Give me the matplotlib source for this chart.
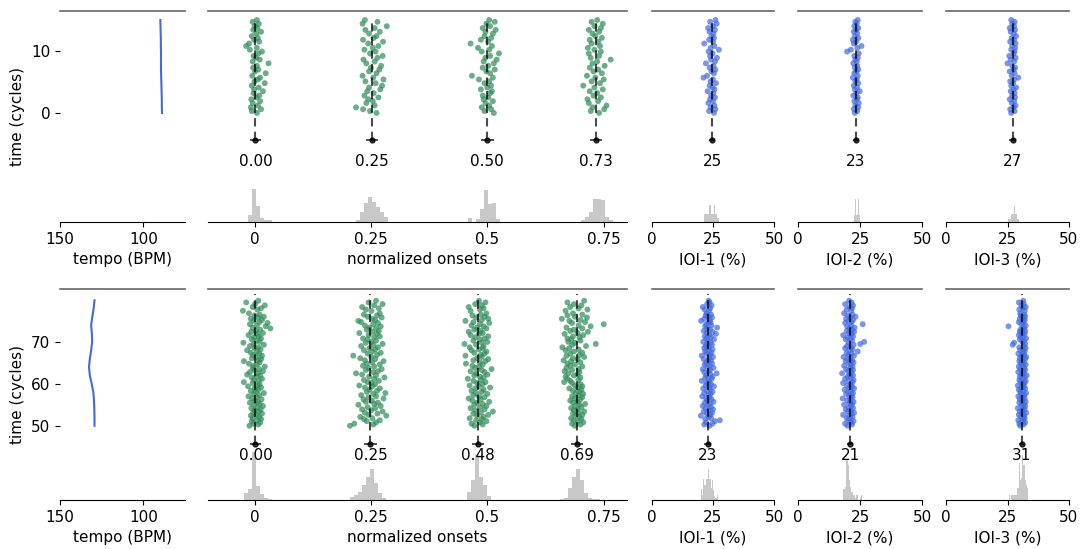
import matplotlib
matplotlib.use("Agg")
import matplotlib.pyplot as plt
import numpy as np

plt.rcParams['font.family'] = ['DejaVu Sans']
plt.rcParams['font.size'] = 11

# ---------------- data ----------------
# tempo curves
tempo_top_cycles = [0, 1, 2, 3, 4, 5, 6, 7, 8, 9, 10, 11, 12, 13, 14, 15]
tempo_top_bpm = [88.8, 88.9, 88.9, 89.0, 89.1, 89.2, 89.3, 89.4, 89.4, 89.4, 89.4, 89.5, 89.5, 89.6, 89.7, 89.8]
tempo_bot_cycles = [50, 52, 54, 56, 58, 60, 62, 64, 66, 68, 70, 72, 74, 76, 78, 79.9]
tempo_bot_bpm = [129.3, 129.3, 129.4, 129.6, 130.0, 131.0, 132.1, 132.6, 132.1, 131.3, 130.7, 130.9, 131.3, 130.6, 129.8, 129.3]

# time (cycles) of each scatter point
y_top = [0.0, 0.3, 0.6, 0.9, 1.2, 1.6, 1.9, 2.2,
         2.5, 2.8, 3.2, 3.5, 3.8, 4.1, 4.4, 4.8,
         5.1, 5.4, 5.7, 6.0, 6.4, 6.7, 7.0, 7.3,
         7.6, 8.0, 8.3, 8.6, 8.9, 9.2, 9.6, 9.9,
         10.2, 10.5, 10.8, 11.2, 11.5, 11.8, 12.1, 12.4,
         12.8, 13.1, 13.4, 13.7, 14.0, 14.4, 14.7, 15.0]
y_bot = [50.0, 50.3, 50.5, 50.8, 51.1, 51.3, 51.6, 51.8,
         52.1, 52.4, 52.6, 52.9, 53.1, 53.4, 53.7, 53.9,
         54.2, 54.4, 54.7, 55.0, 55.2, 55.5, 55.7, 56.0,
         56.3, 56.5, 56.8, 57.0, 57.3, 57.6, 57.8, 58.1,
         58.3, 58.6, 58.9, 59.1, 59.4, 59.6, 59.9, 60.2,
         60.4, 60.7, 60.9, 61.2, 61.5, 61.7, 62.0, 62.2,
         62.5, 62.8, 63.0, 63.3, 63.5, 63.8, 64.1, 64.3,
         64.6, 64.8, 65.1, 65.4, 65.6, 65.9, 66.1, 66.4,
         66.7, 66.9, 67.2, 67.4, 67.7, 68.0, 68.2, 68.5,
         68.7, 69.0, 69.3, 69.5, 69.8, 70.0, 70.3, 70.6,
         70.8, 71.1, 71.3, 71.6, 71.9, 72.1, 72.4, 72.6,
         72.9, 73.2, 73.4, 73.7, 73.9, 74.2, 74.5, 74.7,
         75.0, 75.2, 75.5, 75.8, 76.0, 76.3, 76.5, 76.8,
         77.4, 77.7, 78.0, 78.3, 78.7, 79.0, 79.4, 79.8]

# normalized onsets: means, std, and per-point deviation (x 1e-3 cycle)
onset_mean_top = [0.002, 0.252, 0.500, 0.734]
onset_std_top = [0.011, 0.013, 0.014, 0.013]
onset_dev_top = [
    [3, -8, 12, -10, 5, -6, 10, -9, 2, 8, -4, 16, -3, 7, -8, 20,
     -2, 5, 10, -7, 22, -1, 6, -5, 3, 28, -6, 9, 1, -4, 6, 14,
     -12, 3, -20, -14, 8, -3, 5, -8, 2, 12, -5, 4, -2, 7, -6, 3],
    [10, -4, -19, -34, 6, -12, 2, -8, 14, -16, 4, -10, 18, -6, 22, 8,
     -14, 25, 3, -20, 10, -6, 16, -2, 20, -12, 6, -18, 12, 23, -4, 8,
     -16, 2, 14, -8, 24, -19, 4, 10, -6, 17, -14, 6, 32, -20, 12, -15],
    [14, -6, 8, -12, 4, -4, 12, -8, 2, -10, 6, 10, -14, 0, 8, -6,
     4, -18, 12, -33, 6, -2, 16, -10, 2, 14, -8, 20, -4, 6, 25, -12,
     4, -20, 10, -36, 2, -14, 8, -6, 12, -4, 18, -10, 6, -2, 16, 4],
    [6, -12, 17, -8, 22, -16, 4, -19, 10, -6, 2, -14, 14, -4, -28, 8,
     -10, 16, -2, -20, 12, -6, 4, -14, 18, -8, 2, 31, -12, 6, -16, 10,
     -4, -18, 8, -10, 4, -14, 12, -2, -8, 6, -16, 10, -4, 14, -10, 2],
]
onset_mean_bot = [0.002, 0.249, 0.480, 0.692]
onset_std_bot = [0.0125, 0.0135, 0.012, 0.0125]
onset_dev_bot = [
    [-13, 6, -4, 10, -8, 3, 12, -6, 8, -10, 2, 14, -5, 7, -2, 11,
     -9, 4, 16, -3, 9, -12, 5, -1, 13, -7, 3, -15, 8, -4, 18, 1,
     -10, 6, -2, 12, -16, 4, 9, -6, -25, 7, -3, 14, -8, 2, 10, -18,
     5, -12, 16, -2, 8, -6, 20, -4, 3, -14, 9, -25, 6, 12, -8, 1,
     14, -5, 8, -10, 3, -18, 11, -2, 6, -12, 18, -4, -26, 9, 2, -8,
     12, -3, 7, -15, 4, 16, -9, 1, 10, 32, -6, 22, 3, -12, 26, 8,
     -4, 14, -10, 6, 18, -2, 9, -14, -27, 4, 12, -6, 20, -1, -20, 6],
    [-44, 6, -35, 12, -8, 20, -14, 4, -22, 34, -4, 15, -12, 26, 2, -18,
     10, -6, 22, -26, 8, 16, -10, 3, -15, 28, -4, 12, -20, 6, 32, -8,
     14, -2, 20, -12, 4, -24, 10, 2, -6, 18, -14, 8, 30, -3, 12, -18,
     -31, 6, 16, -10, 24, -4, 8, -16, 20, -8, 4, 28, -12, 10, -22, 2,
     -37, 14, -6, 22, 4, -14, 10, -2, 16, -20, 6, 26, -10, 2, 12, -6,
     -16, 8, 20, -4, 14, -24, 4, 18, -8, 12, -2, 22, -12, 6, 16, -20,
     -26, 10, 4, 24, -6, 14, -14, 20, 2, -10, 18, -18, 8, 26, -4, 12],
    [-8, 10, -14, 4, 18, -4, 8, -18, 12, -2, 22, -10, 6, 32, -6, 14,
     -16, 4, 18, -8, 10, -2, 24, -12, 6, -20, 14, 2, -10, 20, -4, 8,
     -14, 12, -6, 26, 2, -18, 10, -2, 16, -10, 6, -22, 12, 4, -8, 20,
     -4, 14, -16, 8, 29, -6, 2, -12, 10, -26, 4, 16, -10, 22, -2, 8,
     -27, 6, 14, -8, 18, -14, 2, 10, -18, 12, -4, -29, 8, 20, -10, 4,
     14, -6, 22, -16, 2, 10, -20, 6, -8, 18, -2, 12, -14, 4, 24, -10,
     -27, 8, 22, -4, 14, -12, 6, 18, -16, 4, 12, -20, 8, -6, 16, 2],
    [-4, 8, -10, 14, 2, -6, 10, -12, 6, -2, 12, -8, 4, 16, -6, 2,
     -12, 10, -4, 6, 18, -8, 2, -14, 8, -4, 12, -10, 4, 14, -2, 6,
     -8, 10, -16, 2, 12, -4, 8, -10, -27, -14, 4, -20, 8, -24, -6, 2,
     -18, 6, -26, -10, 4, -22, 12, -14, -4, -20, 8, -12, -28, 2, -8, 16,
     -22, 6, -14, 12, -6, -24, 4, -16, -31, 20, -10, 41, -4, -18, 8, -12,
     -20, 6, -8, 14, -26, 2, 24, -14, -6, 12, -22, 30, 4, 58, -10, 18,
     -16, 8, -32, 22, -4, -20, 12, -8, -24, 23, 4, -14, 10, -6, -20, 16],
]

# IOIs (%): means, std, per-point deviation (x 0.1 %)
ioi_mean_top = [24.6, 23.3, 27.1]
ioi_std_top = [1.4, 1.2, 1.3]
ioi_dev_top = [
    [8, -12, 14, -6, 10, -15, 4, -8, 12, -4, 6, -18, 10, 2, -10, 16,
     -6, 4, -35, -20, 8, -2, 14, -10, 6, -25, 12, -4, 20, -8, 2, -14,
     28, -6, 10, -32, 4, -12, 8, -2, 6, -10, 12, -16, 4, 19, -8, 14],
    [-4, 6, -8, 10, -2, 12, -6, 4, 8, -10, 2, 16, -4, 6, -8, 10,
     -2, 4, -12, 8, -6, 2, 10, -4, 6, -10, 4, -2, 8, -6, 12, -35,
     -20, 6, 23, -8, 2, -12, 10, -4, 6, -8, 2, 10, -6, 4, -2, 8],
    [-6, 8, -10, 4, 12, -4, 6, -12, 10, -2, 8, -8, 4, 14, -6, 2,
     -10, 6, 23, -4, 8, -12, 4, 10, -2, -21, 6, -8, 12, -14, 4, 8,
     -6, 10, -2, 12, -10, 6, -4, 14, 4, -8, 10, -12, 6, -2, 8, -6],
]
ioi_mean_bot = [22.8, 21.0, 30.8]
ioi_std_bot = [1.3, 1.2, 1.1]
ioi_dev_bot = [
    [8, -14, 20, -6, 30, 50, -10, 14, 4, -28, 12, -4, 18, -16, 6, 22,
     -8, 14, -20, 2, 10, -12, 24, -2, 16, -6, 8, -22, 4, 12, -14, 20,
     -2, 10, -18, 6, 26, -8, 14, -4, 8, -24, 2, 16, -10, 20, -6, 12,
     37, -14, 4, 10, -20, 24, -2, 8, -12, 18, -6, 2, 14, -16, 6, 22,
     -24, 10, -4, 16, -10, 4, 20, -14, 6, -8, 18, -2, 12, -18, 2, 26,
     -6, 14, -12, 8, 34, -4, 20, -16, 10, -2, 39, -10, 16, -6, 4, 12,
     -27, 8, -14, 18, 2, -8, 14, -4, 6, -12, 10, -20, 16, -2, 8, 4],
    [-10, 8, -20, 4, 14, -6, 2, -14, 10, -4, -28, 6, 16, -10, 2, -18,
     12, -6, 4, -24, 8, -2, 14, -12, 2, -30, 10, -4, 6, -16, 12, -8,
     4, -22, 16, -2, 8, -12, 2, -28, 10, -6, 14, -20, 4, -10, 12, -2,
     -32, 6, -8, 12, -16, 2, 10, -24, 4, -4, 14, -18, 8, -10, 2, -26,
     16, -6, 6, -14, 31, -2, 10, -20, 4, -12, 14, 41, -6, 57, 8, -18,
     2, -10, 12, -28, 6, -4, 16, -14, 8, -2, 18, -12, 4, 51, -20, 6,
     -6, 12, -16, 2, 22, -8, 10, -24, 4, -14, 8, -2, 12, -20, 6, -4],
    [-6, 8, -10, 14, 2, -14, 6, 12, -4, 10, -12, 4, 18, -8, 2, 12,
     -16, 6, 14, -2, 8, -10, 16, 2, -8, 12, 4, -14, 10, -4, 18, -6,
     6, -12, 14, -2, 8, -16, 4, 12, -4, 16, -10, 2, 12, -8, 20, -2,
     8, -14, 6, 14, -6, 10, -12, 4, 16, -4, 8, -10, 2, 14, -8, 18,
     -2, 10, -14, 6, 12, -6, 4, 16, -10, 8, -37, 14, -31, 2, 10, -8,
     18, -4, 6, -12, 12, 2, -8, 14, -6, 10, 4, -54, 16, -2, 8, -12,
     6, 12, -8, 2, 14, -4, 10, -6, 12, -10, 4, 16, -2, 8, -12, 6],
]

# histograms: bin start, counts (bin width fixed per panel type)
onset_bin = 0.0085
onset_hist_top_start = [-0.014, 0.218, 0.459, 0.702]
onset_hist_top_counts = [[7, 33, 16, 4, 2, 2],
                         [2, 10, 19, 25, 20, 15, 10, 5],
                         [4, 0, 3, 13, 32, 18, 19, 3],
                         [2, 5, 10, 23, 23, 22, 5, 2]]
onset_hist_bot_start = [-0.022, 0.206, 0.457, 0.656]
onset_hist_bot_counts = [[7, 11, 48, 14, 6, 2, 1],
                         [3, 5, 8, 15, 23, 31, 17, 7, 2],
                         [8, 20, 45, 23, 15, 4],
                         [1, 2, 12, 23, 31, 20, 7, 2, 1, 1]]
ioi_bin = 0.5
ioi_hist_top_start = [21.5, 22.5, 25.0]
ioi_hist_top_counts = [[8, 8, 8, 8, 17, 8, 8, 8, 17, 8, 4, 4],
                       [7, 23, 7, 23, 7],
                       [3, 3, 3, 8, 8, 16, 8, 8, 3]]
ioi_hist_bot_start = [20.0, 18.0, 25.0]
ioi_hist_bot_counts = [[11, 5, 21, 15, 21, 21, 31, 21, 12, 20, 10, 4, 2, 5],
                       [11, 11, 13, 40, 35, 20, 13, 8, 5, 5, 2, 5, 0, 0, 2, 5],
                       [0, 5, 0, 5, 5, 5, 5, 5, 12, 37, 20, 22, 45, 35, 20, 15, 12]]

onset_ticks = [0, 0.25, 0.5, 0.75]
onset_ticklabels = ["0", "0.25", "0.5", "0.75"]
ioi_ticks = [0, 25, 50]
tempo_ticks = [150, 100]
ioi_labels = ["IOI-1 (%)", "IOI-2 (%)", "IOI-3 (%)"]

# ---------------- layout ----------------
W, H = 1083, 549
fig = plt.figure(figsize=(W / 100, H / 100), dpi=100)

col_px = [(60, 125), (208, 419), (652, 122), (798, 124), (946, 123)]
row_px = [(11, 211), (289, 211)]

rows = [
    dict(ylim=(-17.6, 16.45), yticks=[0, 10], marker_y=-4.4, label_y=-7.9, line_top=15.0,
         y=y_top, tc=tempo_top_cycles, tb=tempo_top_bpm,
         om=onset_mean_top, osd=onset_std_top, od=onset_dev_top,
         oh_s=onset_hist_top_start, oh_c=onset_hist_top_counts,
         im=ioi_mean_top, isd=ioi_std_top, idv=ioi_dev_top,
         ih_s=ioi_hist_top_start, ih_c=ioi_hist_top_counts),
    dict(ylim=(32.3, 82.6), yticks=[50, 60, 70], marker_y=45.6, label_y=42.9, line_top=81.5,
         y=y_bot, tc=tempo_bot_cycles, tb=tempo_bot_bpm,
         om=onset_mean_bot, osd=onset_std_bot, od=onset_dev_bot,
         oh_s=onset_hist_bot_start, oh_c=onset_hist_bot_counts,
         im=ioi_mean_bot, isd=ioi_std_bot, idv=ioi_dev_bot,
         ih_s=ioi_hist_bot_start, ih_c=ioi_hist_bot_counts),
]

GREEN = '#2e8b57'
BLUE = '#4169e1'
HISTC = '#c8c8c8'


def make_ax(ci, ri):
    x0, w = col_px[ci]
    y0, h = row_px[ri]
    ax = fig.add_axes([x0 / W, 1 - (y0 + h) / H, w / W, h / H])
    for s in ['left', 'right']:
        ax.spines[s].set_visible(False)
    ax.spines['top'].set_color('#666666')
    ax.spines['top'].set_linewidth(1.2)
    ax.spines['bottom'].set_color('black')
    ax.patch.set_visible(False)
    return ax


def add_hist(ax, start, counts, width):
    ax2 = ax.twinx()
    ax2.set_ylim(0, 211)
    ax2.set_yticks([])
    for s in ax2.spines.values():
        s.set_visible(False)
    edges = start + width * np.arange(len(counts))
    ax2.bar(edges, counts, width=width, align='edge', color=HISTC, linewidth=0)
    ax.set_zorder(ax2.get_zorder() + 1)
    ax.patch.set_visible(False)
    return ax2


def add_column(ax, row, xs, mean, std, label, color):
    ax.scatter(xs, row['y'], s=18, color=color, alpha=0.7, edgecolors='none', zorder=2)
    ax.plot([mean, mean], [row['marker_y'], row['line_top']], color='black', alpha=0.7,
            lw=1.5, linestyle=(0, (4, 2.5)), zorder=3)
    ax.errorbar([mean], [row['marker_y']], xerr=[std], fmt='o', color='black', ms=3.5,
                elinewidth=1.2, capsize=0, alpha=0.8, zorder=4)
    ax.text(mean, row['label_y'], label, ha='center', va='center', fontsize=11, zorder=5)


for ri, row in enumerate(rows):
    # tempo panel
    ax = make_ax(0, ri)
    ax.plot(row['tb'], row['tc'], color=BLUE, lw=1.5)
    ax.set_xlim(150, 75)
    ax.set_xticks(tempo_ticks)
    ax.set_ylim(*row['ylim'])
    ax.set_yticks(row['yticks'])
    ax.set_xlabel('tempo (BPM)')
    ax.set_ylabel('time (cycles)')

    # onsets panel
    ax = make_ax(1, ri)
    for k in range(4):
        add_hist(ax, row['oh_s'][k], row['oh_c'][k], onset_bin)
    for k in range(4):
        xs = row['om'][k] + np.array(row['od'][k]) / 1000.0
        add_column(ax, row, xs, row['om'][k], row['osd'][k], f"{row['om'][k]:.2f}", GREEN)
    ax.set_xlim(-0.1, 0.8)
    ax.set_ylim(*row['ylim'])
    ax.set_yticks([])
    ax.set_xticks(onset_ticks)
    ax.set_xticklabels(onset_ticklabels)
    ax.set_xlabel('normalized onsets')

    # IOI panels
    for k in range(3):
        ax = make_ax(2 + k, ri)
        add_hist(ax, row['ih_s'][k], row['ih_c'][k], ioi_bin)
        xs = row['im'][k] + np.array(row['idv'][k]) / 10.0
        add_column(ax, row, xs, row['im'][k], row['isd'][k], f"{row['im'][k]:.0f}", BLUE)
        ax.set_xlim(0, 50)
        ax.set_ylim(*row['ylim'])
        ax.set_yticks([])
        ax.set_xticks(ioi_ticks)
        ax.set_xlabel(ioi_labels[k])

fig.savefig('out.png', dpi=100)
